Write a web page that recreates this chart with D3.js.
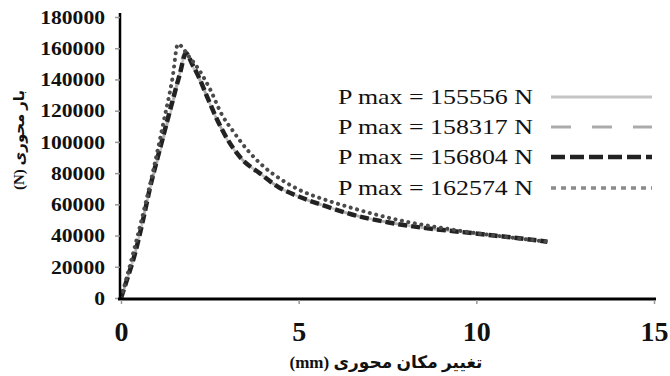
<!DOCTYPE html>
<html>
<head>
<meta charset="utf-8">
<script src="https://cdn.jsdelivr.net/npm/d3@7"></script>
<style>
  html, body { margin: 0; padding: 0; background: #fff; }
  svg { display: block; }
</style>
</head>
<body>
<svg id="chart" width="670" height="376"></svg>
<script>
// ---- data ----
const xTicks = [0, 5, 10, 15];
const yTicks = [0, 20000, 40000, 60000, 80000, 100000, 120000, 140000, 160000, 180000];
const seriesNames = ["P max = 155556 N", "P max = 158317 N", "P max = 156804 N", "P max = 162574 N"];

const s1x = [0, 0.4, 0.82, 1.2, 1.5, 1.83, 2.0, 2.2, 2.45, 2.7, 3.0, 3.4, 3.9, 4.4, 5.0, 5.8, 6.5, 7.5, 8.5, 9.5, 10.5, 11.5, 12.0];
const s1y = [0, 29000, 70000, 102000, 128000, 155556, 149000, 140000, 127000, 114000, 101000, 89000, 80000, 71500, 65000, 58500, 53500, 48500, 45000, 42500, 40000, 37500, 36000];

const s2x = [0, 0.4, 0.82, 1.2, 1.5, 1.82, 2.0, 2.2, 2.45, 2.7, 3.0, 3.4, 3.9, 4.4, 5.0, 5.8, 6.5, 7.5, 8.5, 9.5, 10.5, 11.5, 12.0];
const s2y = [0, 29000, 71000, 104000, 130000, 158317, 150500, 141000, 127500, 114500, 101500, 89000, 80000, 71500, 65000, 58500, 53500, 48500, 45000, 42500, 40000, 37500, 36000];

const s3x = [0, 0.2, 0.4, 0.62, 0.82, 1.1, 1.4, 1.65, 1.83, 2.0, 2.2, 2.45, 2.7, 3.0, 3.4, 3.9, 4.4, 5.0, 5.8, 6.5, 7.5, 8.5, 9.5, 10.5, 11.5, 12.0];
const s3y = [0, 14000, 29000, 50000, 71000, 96000, 122000, 143000, 156804, 150000, 141000, 127500, 114500, 101500, 89000, 80000, 71500, 65000, 58500, 53500, 48500, 45000, 42500, 40000, 37500, 36000];

const s4x = [0, 0.3, 0.6, 0.9, 1.2, 1.45, 1.6, 1.9, 2.2, 2.5, 2.85, 3.15, 3.55, 4.0, 4.5, 5.0, 5.8, 6.45, 7.0, 8.0, 9.0, 10.0, 11.0, 12.0];
const s4y = [0, 25000, 52000, 81000, 113000, 141000, 162574, 155000, 146000, 134000, 117000, 107000, 95000, 84500, 76000, 69500, 62500, 58000, 54500, 49000, 45000, 41500, 38700, 36000];

const seriesX = [s1x, s2x, s3x, s4x];
const seriesY = [s1y, s2y, s3y, s4y];

// ---- styles ----
const styles = [
  { color: "#c4c4c4", width: 2.5, dash: null, lw: 3, cap: "butt" },
  { color: "#ababab", width: 2.5, dash: "20,21", lw: 3, cap: "butt" },
  { color: "#222", width: 4.5, dash: "9,4", lw: 4.5, ldash: "14,5", cap: "butt" },
  { color: "#4a4a4a", width: 4, dash: "0.1,6.5", lw: 3.5, ldash: "5,5", cap: "round" }
];

const svg = d3.select("#chart");
const x = d3.scaleLinear().domain([0, 15]).range([121, 654]);
const y = d3.scaleLinear().domain([0, 180000]).range([298, 17]);

// curves
const line = d3.line().x(d => x(d[0])).y(d => y(d[1])).curve(d3.curveMonotoneX);
[0, 1, 2, 3].forEach(i => {
  const pts = seriesX[i].map((v, k) => [v, seriesY[i][k]]);
  svg.append("path")
    .attr("d", line(pts))
    .attr("fill", "none")
    .attr("stroke", styles[i].color)
    .attr("stroke-width", styles[i].width)
    .attr("stroke-dasharray", styles[i].dash)
    .attr("stroke-linecap", styles[i].cap);
});

// axes
const yAxis = d3.axisLeft(y).tickValues(yTicks).tickSize(5).tickFormat(d3.format("d"));
const gy = svg.append("g").attr("transform", "translate(120,0)").call(yAxis);
gy.select(".domain").attr("stroke", "#000").attr("stroke-width", 2.5).attr("d", `M0,${13}V${299}`);
gy.selectAll(".tick line").attr("stroke", "#999").attr("stroke-width", 1.5);
gy.selectAll(".tick text")
  .attr("x", -15)
  .attr("dy", "0.35em")
  .attr("fill", "#111")
  .style("font-family", "'Liberation Serif', 'Times New Roman', serif")
  .style("font-weight", "bold")
  .style("font-size", "18px")
  .each(function () {
    const w = this.getComputedTextLength();
    d3.select(this).attr("textLength", w * 1.2).attr("lengthAdjust", "spacingAndGlyphs");
  });

const xAxis = d3.axisBottom(x).tickValues(xTicks).tickSize(5).tickFormat(d3.format("d"));
const gx = svg.append("g").attr("transform", "translate(0,299)").call(xAxis);
gx.select(".domain").attr("stroke", "#000").attr("stroke-width", 3).attr("d", `M118,0H656`);
gx.selectAll(".tick line").attr("stroke", "#999").attr("stroke-width", 1.5).attr("y1", 1).attr("y2", 5);
gx.selectAll(".tick text")
  .attr("y", 42)
  .attr("dy", 0)
  .attr("fill", "#111")
  .style("font-family", "'Liberation Serif', 'Times New Roman', serif")
  .style("font-weight", "bold")
  .style("font-size", "28px");

// axis titles
svg.append("text")
  .attr("x", 386).attr("y", 368)
  .attr("text-anchor", "middle")
  .attr("direction", "rtl")
  .attr("fill", "#111")
  .style("font-family", "'Liberation Serif', 'DejaVu Sans', serif")
  .style("font-weight", "bold")
  .style("font-size", "17px")
  .text("تغییر مکان محوری (mm)");

svg.append("text")
  .attr("transform", "translate(24,140) rotate(-90)")
  .attr("text-anchor", "middle")
  .attr("direction", "rtl")
  .attr("fill", "#111")
  .style("font-family", "'Liberation Serif', 'DejaVu Sans', serif")
  .style("font-weight", "bold")
  .style("font-size", "15px")
  .text("بار محوری (N)");

// legend
const legY = [97, 127, 157, 188];
const lg = svg.append("g");
seriesNames.forEach((name, i) => {
  lg.append("text")
    .attr("x", 338).attr("y", legY[i] + 7)
    .attr("fill", "#111")
    .style("font-family", "'Liberation Serif', 'Times New Roman', serif")
    .style("font-size", "21px")
    .text(name)
    .each(function () {
      d3.select(this).attr("textLength", 195).attr("lengthAdjust", "spacingAndGlyphs");
    });
  lg.append("line")
    .attr("x1", 551).attr("x2", 652)
    .attr("y1", legY[i]).attr("y2", legY[i])
    .attr("stroke", i === 3 ? "#8a8a8a" : styles[i].color)
    .attr("stroke-width", styles[i].lw)
    .attr("stroke-dasharray", styles[i].ldash || styles[i].dash)
    .attr("stroke-linecap", "butt");
});
</script>
</body>
</html>
